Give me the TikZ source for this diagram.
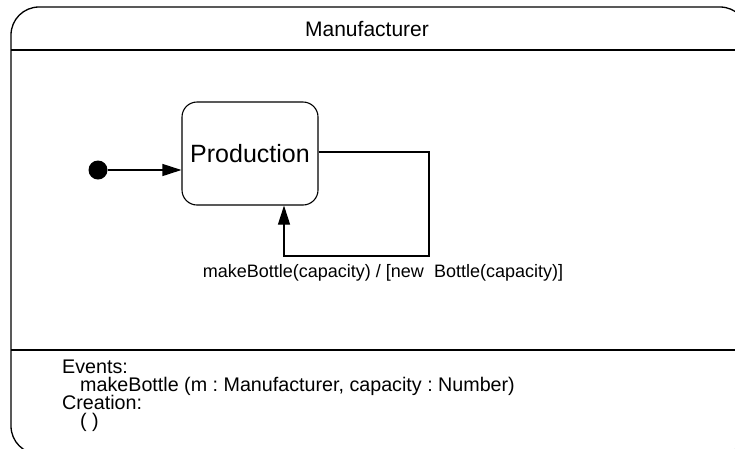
\documentclass[tikz,border=0pt]{standalone}
\usepackage{fontspec}
\setmainfont{Liberation Sans}
\frenchspacing
\usetikzlibrary{arrows.meta, positioning}
\tikzstyle{frame} = [line width=1.3pt, rounded corners=28pt]
\tikzstyle{title} = [text centered, font=\fontsize{21}{24}\selectfont]
\tikzstyle{state} = [rectangle, rounded corners=15pt, minimum width=136pt, minimum height=103pt, text centered, draw=black, line width=1.1pt, font=\fontsize{25}{28}\selectfont]
\tikzstyle{init} = [circle, fill=black, inner sep=0pt, minimum size=19pt]
\tikzstyle{label} = [font=\fontsize{18}{20}\selectfont]
\tikzstyle{info} = [anchor=base west, inner sep=0pt, font=\fontsize{19.7}{21}\selectfont]
\tikzstyle{arrow} = [line width=1.1pt, -{Triangle[length=19pt, width=12pt]}]

\begin{document}
\begin{tikzpicture}[x=1pt, y=-1pt]
		\useasboundingbox (0,0) rectangle (735,448);
		\clip (0,0) rectangle (735,448);
		% outer class box with its header and footer
		\draw [frame] (11,7) rectangle (748,454);
		\draw [line width=1.3pt] (11,50) -- (748,50);
		\draw [line width=1.3pt] (11,350) -- (748,350);
		\node (name) [title] at (367,29) {Manufacturer};

		\node (start) [init] at (98,170) {};
		\node (prod) [state] at (250,153.5) {Production};
		\coordinate (turn) at (429,152);
		\coordinate (back) at (284,256);

		\draw [arrow] (start) -- (start -| prod.west);
		\draw [arrow] (prod.east |- turn) -- (turn) |- (back) -- (back |- prod.south);
		\node (trans) [label] at (383,273) {makeBottle(capacity) / [new\ \ Bottle(capacity)]};

		% events and creation section
		\node (ev) [info] at (62,373) {Events:};
		\node (evsig) [info] at (80,391) {makeBottle (m : Manufacturer, capacity : Number)};
		\node (cr) [info] at (62,409) {Creation:};
		\node (crsig) [info] at (80,427) {( )};
\end{tikzpicture}
\end{document}
